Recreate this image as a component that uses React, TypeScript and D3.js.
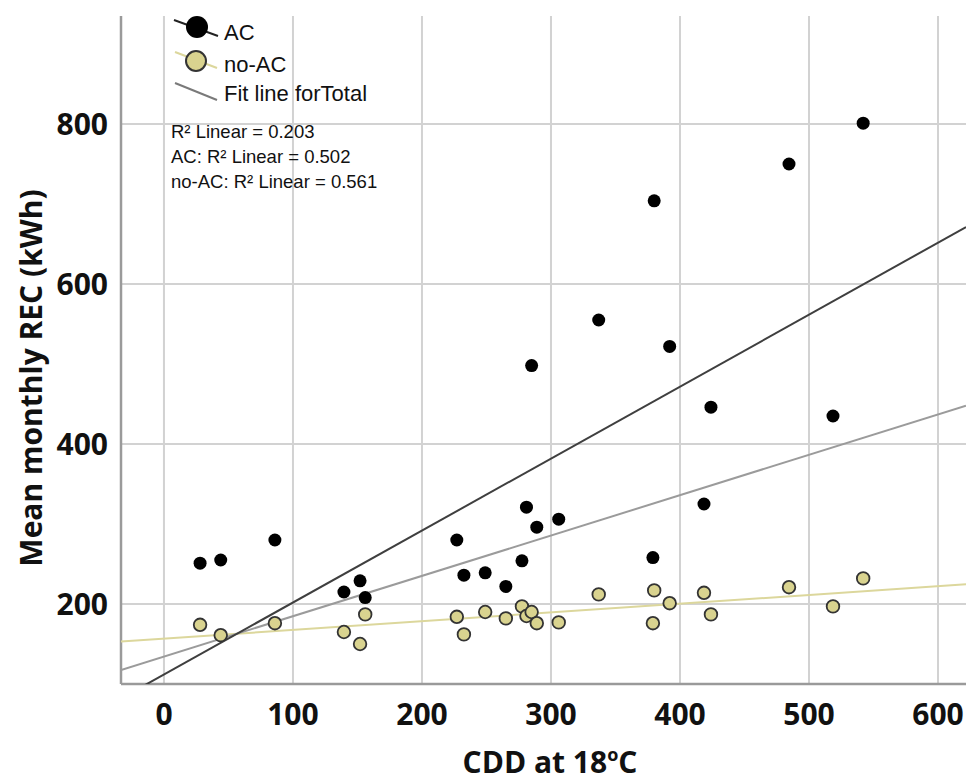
import React from 'react'
import * as d3 from 'd3'

// CDD at 18°C for each location (same x for both groups)
const cdd = [28, 44, 86, 139.5, 152, 156, 227, 232.5, 249, 265, 277.5, 281, 285, 289, 306, 337, 379, 380, 392, 418.6, 424, 484.5, 518.6, 542]
const acRec = [251, 255, 280, 215, 229, 208, 280, 236, 239, 222, 254, 321, 498, 296, 306, 555, 258, 704, 522, 325, 446, 750, 435, 801]
const noAcRec = [174, 161, 176, 165, 150, 187, 184, 162, 190, 182, 197, 185, 190, 176, 177, 212, 176, 217, 201, 214, 187, 221, 197, 232]

const xTicks = [0, 100, 200, 300, 400, 500, 600]
const yTicks = [200, 400, 600, 800]
const r2Labels = ['R² Linear = 0.203', 'AC: R² Linear = 0.502', 'no-AC: R² Linear = 0.561']

const W = 966
const H = 781

// least squares fit
function fit(xs: number[], ys: number[]) {
  const mx = d3.mean(xs) as number
  const my = d3.mean(ys) as number
  let sxy = 0, sxx = 0
  xs.forEach((x, i) => {
    sxy += (x - mx) * (ys[i] - my)
    sxx += (x - mx) * (x - mx)
  })
  const b = sxy / sxx
  return (x: number) => my + b * (x - mx)
}

export default function App() {
  const x = d3.scaleLinear().domain([-33.3, 621.7]).range([121, 966])
  const y = d3.scaleLinear().domain([100, 935]).range([684, 16])

  const [x0, x1] = x.domain()
  const fitAc = fit(cdd, acRec)
  const fitNoAc = fit(cdd, noAcRec)
  const fitTotal = fit(cdd.concat(cdd), acRec.concat(noAcRec))

  // clip fitted lines to plot area
  const clipId = 'plotClip'
  const lineFor = (f: (v: number) => number) =>
    d3.line<number>().x(v => x(v)).y(v => y(f(v)))([x0, x1]) as string

  const tickFont = { fontFamily: '"Open Sans", sans-serif', fontWeight: 700, fontSize: 30, fill: '#111' }
  const legendFont = { fontFamily: '"Liberation Sans", Arial, sans-serif', fontSize: 22, fill: '#111' }

  return (
    <svg width={W} height={H} style={{ display: 'block', position: 'absolute', left: 0, top: 0, background: '#fff' }}>
      <defs>
        <clipPath id={clipId}>
          <rect x={x.range()[0]} y={y.range()[1]} width={x.range()[1] - x.range()[0]} height={y.range()[0] - y.range()[1]} />
        </clipPath>
      </defs>

      {/* grid */}
      <g stroke="#d2d2d2" strokeWidth={2}>
        {xTicks.map(t => (
          <line key={'gx' + t} x1={x(t)} x2={x(t)} y1={y.range()[1]} y2={y.range()[0]} />
        ))}
        {yTicks.map(t => (
          <line key={'gy' + t} x1={x.range()[0]} x2={x.range()[1]} y1={y(t)} y2={y(t)} />
        ))}
      </g>

      {/* axes */}
      <g stroke="#9a9a9a" strokeWidth={2.5}>
        <line x1={x.range()[0]} x2={x.range()[0]} y1={y.range()[1]} y2={y.range()[0]} />
        <line x1={x.range()[0]} x2={x.range()[1]} y1={y.range()[0]} y2={y.range()[0]} />
      </g>

      {/* fit lines */}
      <g clipPath={`url(#${clipId})`} fill="none" strokeWidth={2}>
        <path d={lineFor(fitNoAc)} stroke="#dcd79c" />
        <path d={lineFor(fitTotal)} stroke="#9b9b9b" />
        <path d={lineFor(fitAc)} stroke="#3f3f3f" />
      </g>

      {/* points */}
      <g>
        {cdd.map((c, i) => (
          <circle key={'n' + i} cx={x(c)} cy={y(noAcRec[i])} r={6.3} fill="#d9d38f" stroke="#333" strokeWidth={1.8} />
        ))}
        {cdd.map((c, i) => (
          <circle key={'a' + i} cx={x(c)} cy={y(acRec[i])} r={6.5} fill="#000" />
        ))}
      </g>

      {/* tick labels */}
      {xTicks.map(t => (
        <text key={'tx' + t} x={x(t)} y={725} textAnchor="middle" style={tickFont}>{t}</text>
      ))}
      {yTicks.map(t => (
        <text key={'ty' + t} x={108} y={y(t)} dy="0.36em" textAnchor="end" style={tickFont}>{t}</text>
      ))}

      {/* axis titles */}
      <text x={550} y={773} textAnchor="middle" style={tickFont}>
        CDD at 18<tspan fontSize={18} dy={-12}>o</tspan><tspan dy={12}>C</tspan>
      </text>
      <text transform="translate(42,378) rotate(-90)" textAnchor="middle" style={tickFont}>
        Mean monthly REC (kWh)
      </text>

      {/* legend */}
      <g>
        <line x1={174} y1={20} x2={218} y2={36} stroke="#222" strokeWidth={2} />
        <circle cx={197} cy={27} r={11} fill="#000" />
        <text x={224} y={40} style={legendFont}>AC</text>

        <line x1={175} y1={52} x2={217} y2={68} stroke="#dcd79c" strokeWidth={2} />
        <circle cx={196} cy={61} r={10} fill="#d9d38f" stroke="#333" strokeWidth={2} />
        <text x={224} y={72} style={legendFont}>no-AC</text>

        <line x1={175} y1={83} x2={217} y2={100} stroke="#7a7a7a" strokeWidth={2} />
        <text x={224} y={101} style={legendFont}>Fit line forTotal</text>

        {r2Labels.map((s, i) => (
          <text key={s} x={171} y={138 + i * 25} style={{ ...legendFont, fontSize: 18.5 }}>{s}</text>
        ))}
      </g>
    </svg>
  )
}
